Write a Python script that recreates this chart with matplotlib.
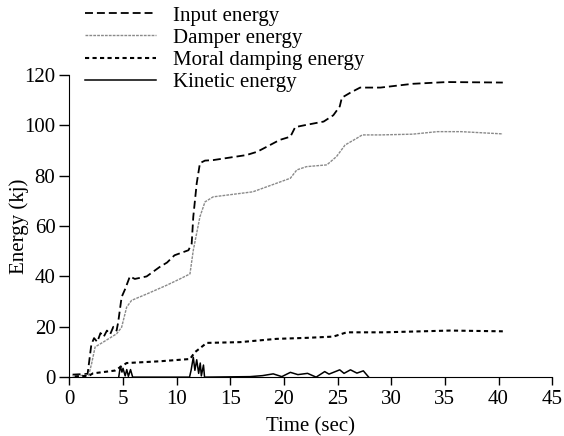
import matplotlib
matplotlib.use('Agg')
import matplotlib.pyplot as plt

plt.rcParams['font.family'] = ['Liberation Serif', 'DejaVu Serif']
plt.rcParams['font.size'] = 15

# 输入能量
t_input = [0.3, 1.7, 2.05, 2.3, 2.6, 2.9, 3.2, 3.5, 3.8, 4.1, 4.4, 4.55, 4.87, 5.2, 5.64,
           6.1, 7.2, 8.4, 9.1, 9.8, 11.1, 11.4, 11.55, 11.87, 12.17, 12.64, 13.4, 16.5,
           17.5, 18.4, 19.6, 20.6, 21.05, 22.1, 23.7, 24.6, 25.2, 25.4, 26.2, 27.1, 29.0,
           32.0, 35.2, 40.4]
v_input = [1.0, 1.3, 13.0, 15.5, 14.0, 17.5, 16.0, 18.5, 17.0, 20.0, 18.5, 21.8, 31.8, 35.0, 40.0,
           39.0, 40.0, 43.7, 45.5, 48.4, 50.4, 53.0, 63.7, 77.0, 85.0, 86.0, 86.2, 88.2,
           89.5, 91.5, 94.2, 95.5, 99.3, 100.2, 101.5, 104.0, 107.5, 111.0, 113.0, 115.0, 115.0,
           116.5, 117.2, 117.0]

# 阻尼器能量
t_damper = [0.3, 1.8, 2.07, 2.4, 3.15, 4.4, 4.87, 5.34, 5.8, 7.2, 9.07, 10.3, 11.24, 11.55,
            12.17, 12.64, 13.4, 17.1, 20.6, 21.2, 22.1, 24.0, 24.9, 25.7, 26.8, 27.3, 29.0,
            32.0, 34.3, 36.5, 40.4]
v_damper = [0.5, 0.8, 5.3, 12.0, 13.9, 17.2, 19.8, 27.8, 30.5, 33.0, 36.5, 39.0, 41.0, 50.4,
            63.7, 69.6, 71.6, 73.6, 79.0, 82.3, 83.6, 84.3, 87.6, 92.2, 94.9, 96.2, 96.2,
            96.5, 97.5, 97.5, 96.6]

# 固有阻尼能量
t_moral = [0.5, 1.8, 2.2, 4.24, 5.34, 8.44, 11.24, 11.7, 12.8, 15.9, 19.3, 22.1, 24.6,
           25.85, 29.3, 35.5, 40.4]
v_moral = [0.3, 0.5, 1.5, 2.6, 5.6, 6.3, 7.2, 9.9, 13.6, 13.9, 15.2, 15.6, 16.1,
           17.8, 17.8, 18.5, 18.2]

# 动能
t_kin = [4.6, 4.75, 4.9, 5.0, 5.2, 5.35, 5.5, 5.7, 5.9, 11.2, 11.35, 11.55, 11.7, 11.87,
         12.05, 12.2, 12.3, 12.5, 12.6, 16.84, 18.0, 19.0, 19.8, 20.6, 21.3, 22.2, 23.0,
         23.8, 24.2, 25.2, 25.6, 26.2, 26.8, 27.4, 27.9]
v_kin = [0.0, 4.3, 2.0, 3.5, 0.5, 3.0, 0.3, 3.0, 0.0, 0.0, 2.8, 7.9, 2.7, 6.9,
         1.5, 5.6, 0.5, 4.8, 0.0, 0.2, 0.6, 1.3, 0.2, 1.9, 1.0, 1.5, 0.0,
         2.2, 1.2, 2.9, 1.5, 2.9, 1.6, 2.5, 0.0]

x_ticks = [0, 5, 10, 15, 20, 25, 30, 35, 40, 45]
y_ticks = [0, 20, 40, 60, 80, 100, 120]

fig = plt.figure(figsize=(5.64, 4.36), dpi=100)
ax = fig.add_axes([0.123, 0.135, 0.856, 0.693])

ax.plot(t_input, v_input, color='black', lw=1.3, dashes=(4.4, 2.2), label='Input energy')
ax.plot(t_damper, v_damper, color='#8a8a8a', lw=1.0, dashes=(2.0, 0.8), label='Damper energy')
ax.plot(t_moral, v_moral, color='black', lw=1.5, dashes=(2.0, 1.6), label='Moral damping energy')
ax.plot(t_kin, v_kin, color='black', lw=1.1, label='Kinetic energy')

ax.set_xlim(0, 45)
ax.set_ylim(0, 120)
ax.set_xticks(x_ticks)
ax.set_yticks(y_ticks)
ax.spines['top'].set_visible(False)
ax.spines['right'].set_visible(False)
ax.tick_params(axis='x', direction='out', length=6, width=1, pad=3)
ax.tick_params(axis='y', direction='out', length=7, width=1, pad=3)
ax.set_xlabel('Time (sec)', labelpad=6)
ax.set_ylabel('Energy (kj)', labelpad=-3)

fig.legend(loc='upper left', bbox_to_anchor=(0.133, 1.01), frameon=False,
           handlelength=3.4, handletextpad=0.8, labelspacing=0.12, borderpad=0)

fig.savefig('out.png', dpi=100)
